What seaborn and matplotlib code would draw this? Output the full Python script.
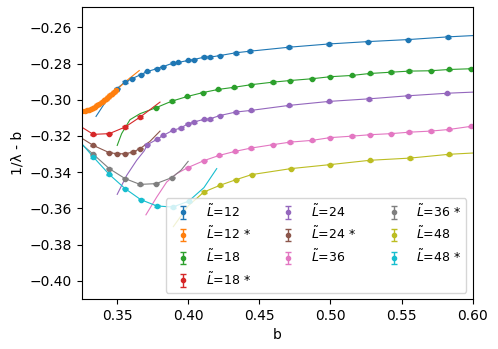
import numpy as np
import pandas as pd
import matplotlib
matplotlib.use("Agg")
import matplotlib.pyplot as plt
import seaborn as sns

# measured points, one pair of lists per series
b_12 = [0.3496, 0.3555, 0.3602, 0.3667, 0.3712, 0.3778, 0.3824, 0.3890, 0.3930, 0.3999, 0.4040,
        0.4110, 0.4153, 0.4223, 0.4333, 0.4434, 0.4710, 0.4992, 0.5266, 0.5545, 0.5827]
v_12 = [-0.2939, -0.2903, -0.2884, -0.2861, -0.2844, -0.2829, -0.2817, -0.2798, -0.2794, -0.2783, -0.2778,
        -0.2765, -0.2765, -0.2756, -0.2741, -0.2732, -0.2710, -0.2692, -0.2679, -0.2668, -0.2653]

b_12s = [0.3255, 0.3270, 0.3285, 0.3300, 0.3315, 0.3330, 0.3345, 0.3360, 0.3375, 0.3390, 0.3405,
         0.3420, 0.3435, 0.3450, 0.3465, 0.3480, 0.3492]
v_12s = [-0.3063, -0.3062, -0.3059, -0.3055, -0.3051, -0.3045, -0.3038, -0.3030, -0.3022, -0.3013, -0.3004,
         -0.2995, -0.2985, -0.2975, -0.2966, -0.2956, -0.2948]

b_18 = [0.3773, 0.3883, 0.3993, 0.4105, 0.4211, 0.4324, 0.4441, 0.4594, 0.4715, 0.4872, 0.4997,
        0.5149, 0.5278, 0.5426, 0.5554, 0.5705, 0.5834, 0.5986]
v_18 = [-0.3044, -0.3008, -0.2982, -0.2960, -0.2943, -0.2931, -0.2917, -0.2903, -0.2894, -0.2884, -0.2873,
        -0.2866, -0.2855, -0.2848, -0.2842, -0.2840, -0.2833, -0.2829]

b_18s = [0.3332, 0.3444, 0.3555, 0.3660]
v_18s = [-0.3191, -0.3187, -0.3151, -0.3096]

b_24 = [0.3712, 0.3778, 0.3824, 0.3890, 0.3946, 0.3999, 0.4040, 0.4110, 0.4153, 0.4223, 0.4333,
        0.4439, 0.4710, 0.4992, 0.5271, 0.5547, 0.5822]
v_24 = [-0.3248, -0.3219, -0.3197, -0.3169, -0.3156, -0.3132, -0.3123, -0.3108, -0.3105, -0.3087, -0.3068,
        -0.3059, -0.3031, -0.3009, -0.2995, -0.2978, -0.2964]

b_24s = [0.3332, 0.3444, 0.3500, 0.3555, 0.3609, 0.3660]
v_24s = [-0.3252, -0.3292, -0.3298, -0.3298, -0.3289, -0.3270]

b_36 = [0.3995, 0.4110, 0.4218, 0.4328, 0.4439, 0.4594, 0.4715, 0.4872, 0.4997, 0.5149, 0.5278,
        0.5426, 0.5554, 0.5705, 0.5834, 0.5986]
v_36 = [-0.3375, -0.3336, -0.3307, -0.3285, -0.3267, -0.3248, -0.3234, -0.3224, -0.3209, -0.3201, -0.3193,
        -0.3187, -0.3179, -0.3173, -0.3164, -0.3147]

b_36s = [0.3332, 0.3444, 0.3555, 0.3660, 0.3773, 0.3883]
v_36s = [-0.3301, -0.3380, -0.3435, -0.3467, -0.3463, -0.3430]

b_48 = [0.4110, 0.4223, 0.4336, 0.4446, 0.4722, 0.4997, 0.5278, 0.5559, 0.5834]
v_48 = [-0.3509, -0.3472, -0.3441, -0.3413, -0.3380, -0.3358, -0.3334, -0.3322, -0.3301]

b_48s = [0.3332, 0.3444, 0.3555, 0.3665, 0.3778, 0.3890, 0.4002]
v_48s = [-0.3316, -0.3412, -0.3490, -0.3551, -0.3586, -0.3592, -0.3560]

# where each fitted curve runs beyond the points
fit_left = {
    "12": ([0.3351, 0.3402, 0.3449], [-0.3092, -0.3031, -0.2976]),
    "12 *": ([0.3250], [-0.3065]),
    "18": ([0.3500, 0.3531, 0.3590, 0.3660], [-0.3252, -0.3187, -0.3110, -0.3077]),
    "18 *": ([0.3250], [-0.3151]),
    "24": ([0.3500, 0.3567, 0.3637, 0.3690], [-0.3522, -0.3417, -0.3334, -0.3282]),
    "24 *": ([0.3250], [-0.3212]),
    "36": ([0.3702, 0.3778, 0.3848, 0.3918], [-0.3635, -0.3537, -0.3454, -0.3408]),
    "36 *": ([0.3250], [-0.3246]),
    "48": ([0.3895, 0.4000], [-0.3700, -0.3585]),
    "48 *": ([0.3250], [-0.3242]),
}
fit_right = {
    "12": ([0.6000], [-0.2646]),
    "12 *": ([0.3567, 0.3655], [-0.2894, -0.2839]),
    "18": ([0.6000], [-0.2828]),
    "18 *": ([0.3730, 0.3801], [-0.3055, -0.3013]),
    "24": ([0.6000], [-0.2958]),
    "24 *": ([0.3730, 0.3801], [-0.3230, -0.3173]),
    "36": ([0.6000], [-0.3144]),
    "36 *": ([0.3950, 0.3999], [-0.3388, -0.3340]),
    "48": ([0.6000], [-0.3294]),
    "48 *": ([0.4110, 0.4200], [-0.3485, -0.3380]),
}

names = ["12", "12 *", "18", "18 *", "24", "24 *", "36", "36 *", "48", "48 *"]
xs = [b_12, b_12s, b_18, b_18s, b_24, b_24s, b_36, b_36s, b_48, b_48s]
ys = [v_12, v_12s, v_18, v_18s, v_24, v_24s, v_36, v_36s, v_48, v_48s]

colors = sns.color_palette("tab10", 10)

fig = plt.figure(figsize=(4.98, 3.49), dpi=100)
ax = fig.add_axes([0.164, 0.143, 0.785, 0.836])

for name, bx, vy, c in zip(names, xs, ys, colors):
    fx = fit_left[name][0] + bx + fit_right[name][0]
    fy = fit_left[name][1] + vy + fit_right[name][1]
    fit_df = pd.DataFrame({"b": fx, "v": fy})
    sns.lineplot(data=fit_df, x="b", y="v", color=c, lw=0.8, sort=False,
                 estimator=None, ax=ax, legend=False)
    ax.errorbar(bx, vy, yerr=0.0004, fmt="o", ms=3, color=c, capsize=2,
                elinewidth=1, label=r"$\tilde{L}$=" + name)

ax.set_xlim(0.325, 0.60)
ax.set_ylim(-0.41, -0.249)
ax.set_xticks([0.35, 0.40, 0.45, 0.50, 0.55, 0.60])
ax.set_yticks([-0.26, -0.28, -0.30, -0.32, -0.34, -0.36, -0.38, -0.40])
ax.set_xlabel("b")
ax.set_ylabel("1/λ - b")
ax.legend(loc="lower right", ncol=3, fontsize=9)

fig.savefig("out.png", dpi=100)
